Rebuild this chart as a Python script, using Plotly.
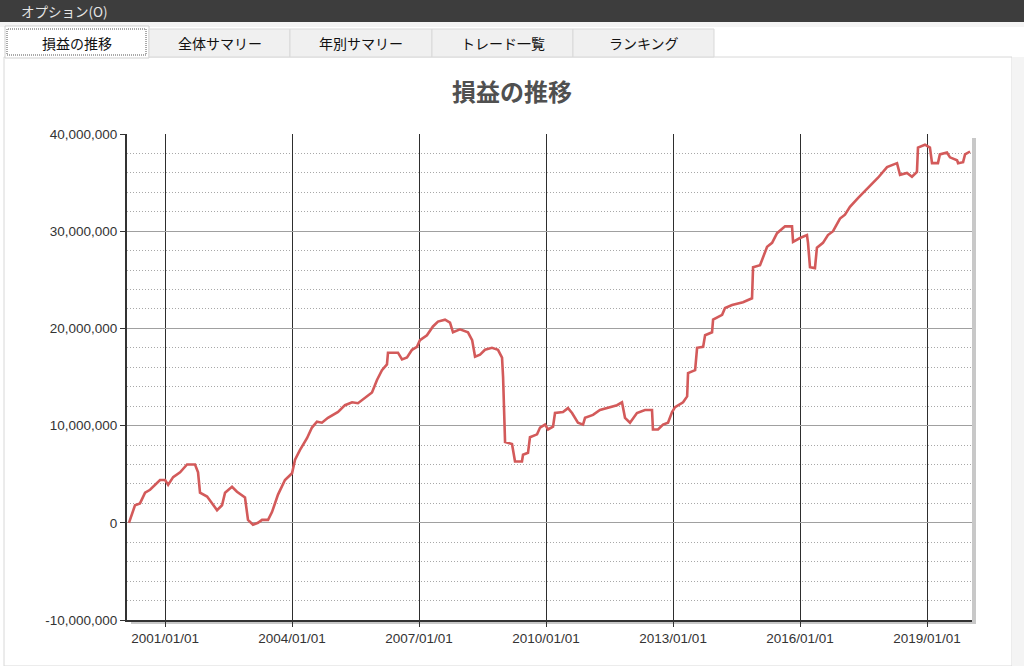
import plotly.graph_objects as go

# ---- data ----
dates = [
    "2000-02-24", "2000-03-21", "2000-04-16", "2000-05-29", "2000-07-12", "2000-08-24",
    "2000-10-06", "2000-11-18", "2001-01-01", "2001-01-27", "2001-03-11", "2001-05-10",
    "2001-07-09", "2001-09-16", "2001-10-12", "2001-10-29", "2001-12-29", "2002-02-10",
    "2002-03-25", "2002-05-07", "2002-06-02", "2002-08-01", "2002-09-13", "2002-11-21",
    "2002-12-17", "2003-01-29", "2003-03-13", "2003-04-17", "2003-06-08", "2003-07-12",
    "2003-09-02", "2003-11-01", "2004-01-01", "2004-01-27", "2004-03-10", "2004-05-09",
    "2004-06-21", "2004-08-03", "2004-09-15", "2004-11-06", "2005-02-01", "2005-04-02",
    "2005-06-02", "2005-07-23", "2005-09-22", "2005-11-21", "2006-01-03", "2006-02-15",
    "2006-03-30", "2006-04-08", "2006-07-03", "2006-08-07", "2006-09-19", "2006-11-01",
    "2006-12-14", "2007-01-09", "2007-03-10", "2007-05-01", "2007-06-13", "2007-08-13",
    "2007-09-25", "2007-10-21", "2007-12-20", "2008-02-27", "2008-04-03", "2008-04-28",
    "2008-06-10", "2008-07-23", "2008-09-21", "2008-11-12", "2008-12-17", "2008-12-26",
    "2009-01-12", "2009-03-13", "2009-04-08", "2009-06-07", "2009-06-16", "2009-07-29",
    "2009-08-15", "2009-10-15", "2009-11-10", "2009-12-23", "2010-01-18", "2010-03-02",
    "2010-03-19", "2010-05-27", "2010-07-09", "2010-08-13", "2010-10-03", "2010-11-16",
    "2010-12-03", "2011-02-10", "2011-04-11", "2011-07-06", "2011-09-05", "2011-10-18",
    "2011-11-13", "2011-12-26", "2012-02-24", "2012-05-03", "2012-07-03", "2012-07-11",
    "2012-08-24", "2012-10-06", "2012-11-18", "2012-12-23", "2013-01-18", "2013-03-28",
    "2013-05-02", "2013-05-10", "2013-07-10", "2013-07-27", "2013-09-17", "2013-10-04",
    "2013-12-03", "2013-12-12", "2014-02-28", "2014-03-25", "2014-05-25", "2014-08-27",
    "2014-11-13", "2014-11-22", "2015-01-21", "2015-03-23", "2015-05-05", "2015-06-17",
    "2015-08-25", "2015-10-24", "2015-11-02", "2016-01-01", "2016-03-01", "2016-03-10",
    "2016-03-27", "2016-05-09", "2016-05-26", "2016-07-17", "2016-08-29", "2016-10-12",
    "2016-12-11", "2017-01-23", "2017-03-07", "2017-05-15", "2017-08-27", "2017-11-04",
    "2018-01-21", "2018-04-17", "2018-05-13", "2018-07-12", "2018-08-24", "2018-10-06",
    "2018-10-15", "2018-12-14", "2019-01-26", "2019-02-13", "2019-04-05", "2019-04-22",
    "2019-06-22", "2019-07-18", "2019-09-17", "2019-09-26", "2019-11-08", "2019-11-25",
    "2020-01-07",
]
profit_million = [
    0.0, 1.0, 1.8, 2.0, 3.1, 3.4,
    3.9, 4.4, 4.4, 3.9, 4.7, 5.2,
    6.0, 6.0, 5.2, 3.1, 2.7, 2.0,
    1.3, 1.8, 3.1, 3.7, 3.2, 2.6,
    0.3, -0.2, 0.0, 0.3, 0.3, 1.1,
    2.9, 4.4, 5.1, 6.5, 7.5, 8.7,
    9.8, 10.4, 10.3, 10.8, 11.4, 12.1,
    12.4, 12.3, 12.9, 13.4, 14.7, 15.7,
    16.3, 17.5, 17.5, 16.8, 17.0, 17.8,
    18.1, 18.8, 19.3, 20.2, 20.7, 20.9,
    20.6, 19.6, 19.9, 19.6, 18.8, 17.1,
    17.3, 17.8, 18.0, 17.8, 17.0, 15.0,
    8.3, 8.1, 6.3, 6.3, 7.0, 7.2,
    8.8, 9.1, 9.8, 10.1, 9.6, 9.9,
    11.3, 11.4, 11.8, 11.3, 10.3, 10.1,
    10.8, 11.1, 11.6, 11.9, 12.1, 12.4,
    10.8, 10.3, 11.3, 11.6, 11.6, 9.6,
    9.6, 10.1, 10.3, 11.4, 11.9, 12.4,
    13.0, 15.4, 15.7, 18.0, 18.1, 19.3,
    19.6, 20.9, 21.4, 22.1, 22.4, 22.7,
    23.1, 26.3, 26.5, 28.4, 28.8, 29.8,
    30.5, 30.5, 28.9, 29.3, 29.6, 28.8,
    26.3, 26.2, 28.3, 28.8, 29.6, 30.0,
    31.3, 31.7, 32.5, 33.4, 34.6, 35.5,
    36.6, 37.0, 35.8, 36.0, 35.6, 36.1,
    38.6, 38.9, 38.6, 37.0, 37.0, 37.9,
    38.1, 37.6, 37.3, 37.0, 37.1, 37.9,
    38.2,
]
profit = [v * 1_000_000 for v in profit_million]

x_tick_vals = ["2001-01-01", "2004-01-01", "2007-01-01", "2010-01-01",
               "2013-01-01", "2016-01-01", "2019-01-01"]
x_tick_text = ["2001/01/01", "2004/01/01", "2007/01/01", "2010/01/01",
               "2013/01/01", "2016/01/01", "2019/01/01"]
y_tick_vals = [-10_000_000, 0, 10_000_000, 20_000_000, 30_000_000, 40_000_000]
y_tick_text = ["-10,000,000", "0", "10,000,000", "20,000,000", "30,000,000", "40,000,000"]

tab_labels = ["損益の推移", "全体サマリー", "年別サマリー", "トレード一覧", "ランキング"]
menu_label = "オプション(O)"
chart_title = "損益の推移"

# ---- layout helpers ----
W, H = 1024, 666
def px(x):
    return x / W
def py(y):
    return 1 - y / H

plot_l, plot_r, plot_t, plot_b = 127, 972, 134, 620

fig = go.Figure()
fig.add_trace(go.Scatter(
    x=dates, y=profit, mode="lines",
    line=dict(color="#d35a5a", width=2.6),
    hoverinfo="skip", showlegend=False,
))

shapes = []
# header bar
shapes.append(dict(type="rect", xref="paper", yref="paper", x0=0, x1=1, y0=py(22), y1=1,
                   fillcolor="#3d3d3d", line=dict(width=0), layer="below"))
shapes.append(dict(type="rect", xref="paper", yref="paper", x0=0, x1=1, y0=py(27), y1=py(22),
                   fillcolor="#f4f4f4", line=dict(width=0), layer="below"))
# content panel
shapes.append(dict(type="rect", xref="paper", yref="paper", x0=px(4), x1=px(1012), y0=0, y1=py(57),
                   fillcolor="#ffffff", line=dict(color="#d8d8d8", width=1), layer="below"))
shapes.append(dict(type="rect", xref="paper", yref="paper", x0=px(1012), x1=1, y0=0, y1=py(57),
                   fillcolor="#f4f4f4", line=dict(width=0), layer="below"))
# tabs
tab_edges = [5, 149, 290, 432, 573, 714]
for i in range(len(tab_labels)):
    x0, x1 = tab_edges[i], tab_edges[i + 1]
    if i == 0:
        shapes.append(dict(type="rect", xref="paper", yref="paper", x0=px(x0), x1=px(x1),
                           y0=py(58), y1=py(26), fillcolor="#ffffff",
                           line=dict(color="#d0d0d0", width=1), layer="below"))
        shapes.append(dict(type="rect", xref="paper", yref="paper", x0=px(x0 + 2), x1=px(x1 - 3),
                           y0=py(55), y1=py(29), fillcolor="rgba(0,0,0,0)",
                           line=dict(color="#555555", width=1, dash="1px,1px"), layer="below"))
    else:
        shapes.append(dict(type="rect", xref="paper", yref="paper", x0=px(x0), x1=px(x1),
                           y0=py(57), y1=py(29), fillcolor="#f0f0f0",
                           line=dict(color="#d9d9d9", width=1), layer="below"))
# plot shadow
shapes.append(dict(type="rect", xref="paper", yref="paper", x0=px(plot_r), x1=px(plot_r + 4),
                   y0=py(plot_b + 4), y1=py(plot_t + 4), fillcolor="#c8c8c8",
                   line=dict(width=0), layer="below"))
shapes.append(dict(type="rect", xref="paper", yref="paper", x0=px(plot_l + 4), x1=px(plot_r + 4),
                   y0=py(plot_b + 4), y1=py(plot_b), fillcolor="#c8c8c8",
                   line=dict(width=0), layer="below"))

annotations = []
annotations.append(dict(text=menu_label, xref="paper", yref="paper", x=px(19), y=py(11),
                        xanchor="left", yanchor="middle", showarrow=False,
                        font=dict(family="Noto Sans CJK JP", size=13.5, color="#e6e6e6")))
for i, lab in enumerate(tab_labels):
    cx = (tab_edges[i] + tab_edges[i + 1]) / 2
    annotations.append(dict(text=lab, xref="paper", yref="paper", x=px(cx), y=py(43),
                            xanchor="center", yanchor="middle", showarrow=False,
                            font=dict(family="Noto Sans CJK JP", size=14, color="#111111")))
annotations.append(dict(text="<b>" + chart_title + "</b>", xref="paper", yref="paper",
                        x=px(512), y=py(91), xanchor="center", yanchor="middle", showarrow=False,
                        font=dict(family="Noto Sans CJK JP", size=24, color="#505050")))

fig.update_layout(
    width=W, height=H,
    margin=dict(l=0, r=0, t=0, b=0, pad=0),
    paper_bgcolor="#ffffff",
    plot_bgcolor="#fffff0",
    shapes=shapes,
    annotations=annotations,
    xaxis=dict(
        domain=[px(plot_l), px(plot_r)],
        range=["2000-02-07", "2020-01-24"],
        type="date",
        tickvals=x_tick_vals, ticktext=x_tick_text,
        showgrid=True, gridcolor="#2e2e2e", gridwidth=1.4,
        showline=True, linecolor="#333333", linewidth=2,
        ticks="outside", ticklen=5, tickcolor="#333333",
        tickfont=dict(family="Liberation Sans, Arial", size=13.5, color="#333333"),
        zeroline=False, fixedrange=True, automargin=False,
    ),
    yaxis=dict(
        domain=[py(plot_b), py(plot_t)],
        range=[-10_000_000, 40_000_000],
        tickvals=y_tick_vals, ticktext=y_tick_text,
        showgrid=True, gridcolor="#a0a0a0", gridwidth=1.3,
        showline=True, linecolor="#333333", linewidth=2,
        ticks="outside", ticklen=5, tickcolor="#333333",
        tickfont=dict(family="Liberation Sans, Arial", size=13.5, color="#333333"),
        minor=dict(dtick=2_000_000, tick0=0, showgrid=True, gridcolor="#a8a8a8",
                   griddash="1px,2px", gridwidth=1, ticks=""),
        zeroline=False, fixedrange=True, automargin=False,
    ),
)

fig.write_html(
    "out.html",
    config={"displayModeBar": False},
    post_script="document.body.style.margin='0';document.body.style.padding='0';"
                "document.body.style.overflow='hidden';"
                "document.documentElement.style.overflow='hidden';",
)
